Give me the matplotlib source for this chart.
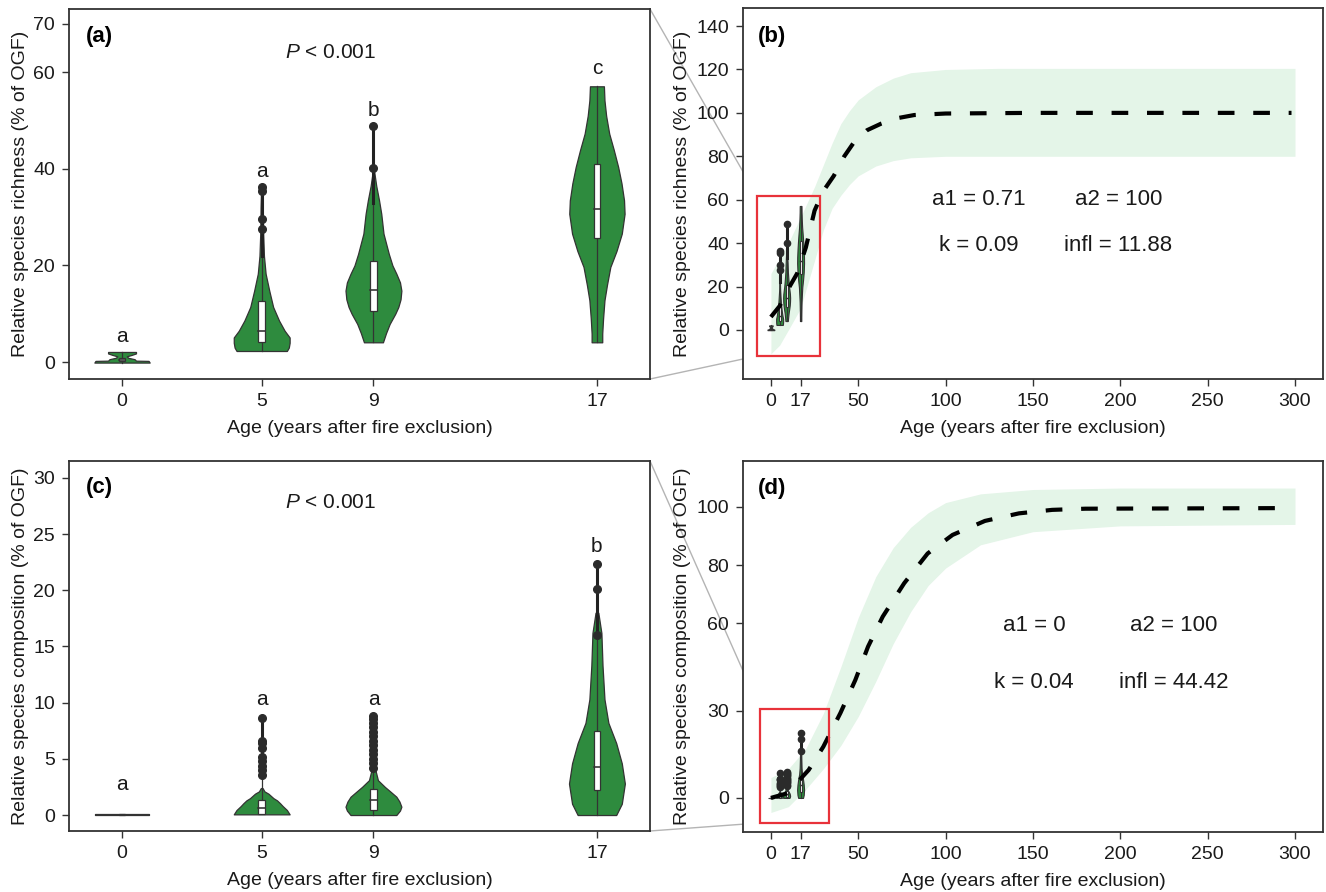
import numpy as np
import matplotlib
matplotlib.use('Agg')
import matplotlib.pyplot as plt
from matplotlib.patches import Rectangle, ConnectionPatch

fam = 'Liberation Sans'
plt.rcParams['font.family'] = [fam, 'DejaVu Sans']
plt.rcParams['mathtext.fontset'] = 'custom'
plt.rcParams['mathtext.it'] = fam + ':italic'
plt.rcParams['mathtext.rm'] = fam

# ---- data ----
ages = [0, 5, 9, 17]
age_ticks = [0, 17, 50, 100, 150, 200, 250, 300]

# richness violins: y levels and half widths (years)
rich_vy = [[-0.1, 0.25, 0.3, 0.6, 0.9, 1.2, 1.5, 1.8, 2.1],
           [2.3, 3.0, 4.0, 5.1, 6.5, 8.6, 11.4, 14.8, 18.3, 22, 27, 32, 36.3],
           [4.1, 6, 7.9, 10, 11.4, 13, 14.8, 16.5, 18.3, 20, 22.4, 26.6, 30.7, 33.5, 36.5, 39.7],
           [4.1, 5.9, 9, 12.8, 16, 19.7, 23, 26.6, 30.7, 33.5, 37, 40.4, 44, 47.3, 51, 54.2, 57.1]]
rich_vw = [[0.99, 0.95, 0.5, 0.45, 0.22, 0.17, 0.35, 0.5, 0.5],
           [0.9, 0.97, 1.0, 1.0, 0.82, 0.62, 0.41, 0.27, 0.14, 0.08, 0.05, 0.04, 0.02],
           [0.34, 0.45, 0.58, 0.78, 0.89, 0.97, 1.0, 0.95, 0.82, 0.68, 0.55, 0.36, 0.28, 0.2, 0.1, 0.02],
           [0.19, 0.19, 0.22, 0.27, 0.36, 0.48, 0.7, 0.89, 0.99, 0.97, 0.88, 0.76, 0.6, 0.44, 0.33, 0.27, 0.25]]
rich_q1 = [0.2, 4.2, 10.5, 25.6]
rich_med = [0.4, 6.5, 14.9, 31.7]
rich_q3 = [0.8, 12.6, 20.9, 41.1]
rich_lo = [-0.1, 2.3, 4.1, 4.1]
rich_hi = [2.1, 22, 33, 57.1]
rich_out = [[], [27.5, 29.7, 35.4, 36.3], [40.2, 48.9], []]
rich_letters = ['a', 'a', 'b', 'c']
rich_letter_y = [5.2, 39.4, 52, 60.8]

# composition violins
comp_vy = [[0.0, 0.06],
           [0.06, 0.45, 0.8, 1.04, 1.3, 1.5, 1.9, 2.1, 2.4],
           [0.0, 0.4, 0.74, 1.2, 1.63, 2.1, 2.5, 3.1, 4.0, 6, 8.8],
           [0.0, 1.0, 2.8, 4.6, 6.4, 8.2, 10.3, 13.3, 16.2, 18.0]]
comp_vw = [[0.97, 0.97],
           [1.0, 0.9, 0.75, 0.66, 0.55, 0.42, 0.24, 0.1, 0.03],
           [0.82, 0.95, 1.0, 0.93, 0.82, 0.6, 0.41, 0.16, 0.07, 0.04, 0.02],
           [0.69, 0.89, 1.0, 0.89, 0.69, 0.41, 0.27, 0.2, 0.16, 0.05]]
comp_q1 = [0.0, 0.06, 0.45, 2.2]
comp_med = [0.0, 0.6, 1.34, 4.3]
comp_q3 = [0.08, 1.3, 2.32, 7.5]
comp_lo = [0.0, 0.06, 0.0, 0.0]
comp_hi = [0.08, 3.4, 4.0, 15.9]
comp_out = [[], [3.6, 4.0, 4.4, 4.8, 5.2, 6.0, 6.4, 6.6, 8.6],
            [4.2, 4.6, 5.0, 5.4, 5.8, 6.2, 6.6, 7.0, 7.4, 7.8, 8.2, 8.5, 8.8],
            [16.0, 20.1, 22.3]]
comp_letters = ['a', 'a', 'a', 'b']
comp_letter_y = [2.7, 10.3, 10.3, 23.9]

# fitted curves and ribbons (b: richness, d: composition)
rich_fit_x = [0, 5, 10, 15, 20, 25, 30, 36, 42, 48, 55, 63, 72, 82, 100, 150, 298]
rich_fit_y = [6, 11, 19, 26, 38, 55, 64, 71, 80, 87, 92, 95, 97.5, 99, 99.7, 100, 100]
rich_band_x = [0, 5, 10, 17, 25, 30, 35, 40, 45, 50, 60, 70, 80, 100, 130, 300]
rich_band_lo = [-11, -7, 0, 10, 32, 46, 56, 62, 67, 71, 75.5, 78, 79.3, 80, 80, 80]
rich_band_hi = [26, 33, 40, 52, 66, 76, 86, 95, 101, 106, 112, 116, 118.5, 120, 120.5, 120.5]

comp_fit_x = [0, 9.4, 21.6, 30, 39.8, 48.3, 55.6, 64, 76.3, 89.7, 104, 122.5, 142, 161, 180, 291]
comp_fit_y = [0, 1.6, 9.6, 17.6, 29.2, 40.5, 52, 62.3, 73.8, 84, 90.4, 95.2, 97.8, 99, 99.4, 99.6]
comp_band_x = [0, 10, 20, 30, 40, 50, 60, 70, 80, 90, 100, 120, 150, 200, 300]
comp_band_lo = [-5, -3, 3, 10, 18, 28, 40, 53, 64, 73, 79, 87, 91.5, 93.5, 94]
comp_band_hi = [7, 10, 17, 29, 45, 62, 76, 86, 93, 98, 101.5, 104.5, 106, 106.5, 106.5]

rich_params = ['a1 = 0.71', 'a2 = 100', 'k = 0.09', 'infl = 11.88']
comp_params = ['a1 = 0', 'a2 = 100', 'k = 0.04', 'infl = 44.42']

GREEN = '#2e8b3e'
EDGE = '#333333'
BAND = '#e4f5e8'
TXT = '#1a1a1a'


def violins(ax, vy, vw, q1, med, q3, lo, hi, outs, scale=1.0, box_hw=0.12,
            ms=5.5, lw=0.9):
    for i, a in enumerate(ages):
        y = np.array(vy[i])
        w = np.array(vw[i]) * scale
        ax.fill_betweenx(y, a - w, a + w, color=GREEN, ec=EDGE, lw=lw, zorder=2)
        ax.plot([a, a], [lo[i], q1[i]], color=EDGE, lw=lw, zorder=3)
        ax.plot([a, a], [q3[i], hi[i]], color=EDGE, lw=lw, zorder=3)
        bw = box_hw * scale
        ax.add_patch(Rectangle((a - bw, q1[i]), 2 * bw, q3[i] - q1[i],
                               fc='white', ec=EDGE, lw=lw, zorder=4))
        ax.plot([a - bw, a + bw], [med[i], med[i]], color=EDGE, lw=lw * 1.3, zorder=5)
        if outs[i]:
            ax.plot([a, a], [hi[i], max(outs[i])], color='#222222', lw=2.2, zorder=5)
            ax.plot([a] * len(outs[i]), outs[i], 'o', color='#2b2b2b', ms=ms, zorder=6)


def style(ax):
    for s in ax.spines.values():
        s.set_color(EDGE)
        s.set_linewidth(1.3)
    ax.tick_params(direction='out', length=5, width=1, color=EDGE, pad=5,
                   labelsize=14, labelcolor=TXT)


fig = plt.figure(figsize=(13.26, 8.92), dpi=100)
ax_a = fig.add_axes([0.052, 0.5751, 0.4382, 0.4148])
ax_b = fig.add_axes([0.5603, 0.5751, 0.4374, 0.4159])
ax_c = fig.add_axes([0.052, 0.0684, 0.4382, 0.4148])
ax_d = fig.add_axes([0.5603, 0.0673, 0.4374, 0.4159])

xlab = 'Age (years after fire exclusion)'

# (a) richness violins
violins(ax_a, rich_vy, rich_vw, rich_q1, rich_med, rich_q3, rich_lo, rich_hi, rich_out)
for a, l, y in zip(ages, rich_letters, rich_letter_y):
    ax_a.text(a, y, l, ha='center', va='center', fontsize=15, color=TXT)
ax_a.text(7.45, 64.1, '$P$ < 0.001', ha='center', va='center', fontsize=15, color=TXT)
ax_a.set_xlim(-1.9, 18.9)
ax_a.set_ylim(-3.5, 73.1)
ax_a.set_xticks(ages)
ax_a.set_yticks([0, 20, 40, 60, 70])
ax_a.set_ylabel('Relative species richness (% of OGF)', fontsize=14, color=TXT, labelpad=3)
ax_a.set_xlabel(xlab, fontsize=14, color=TXT, labelpad=7)
ax_a.text(0.029, 0.927, '(a)', transform=ax_a.transAxes, fontsize=16,
          fontweight='bold', va='center', color='black')

# (c) composition violins
violins(ax_c, comp_vy, comp_vw, comp_q1, comp_med, comp_q3, comp_lo, comp_hi, comp_out)
for a, l, y in zip(ages, comp_letters, comp_letter_y):
    ax_c.text(a, y, l, ha='center', va='center', fontsize=15, color=TXT)
ax_c.text(7.45, 27.8, '$P$ < 0.001', ha='center', va='center', fontsize=15, color=TXT)
ax_c.set_xlim(-1.9, 18.9)
ax_c.set_ylim(-1.42, 31.5)
ax_c.set_xticks(ages)
ax_c.set_yticks([0, 5, 10, 15, 20, 25, 30])
ax_c.set_ylabel('Relative species composition (% of OGF)', fontsize=14, color=TXT, labelpad=3)
ax_c.set_xlabel(xlab, fontsize=14, color=TXT, labelpad=7)
ax_c.text(0.029, 0.927, '(c)', transform=ax_c.transAxes, fontsize=16,
          fontweight='bold', va='center', color='black')


def curve_panel(ax, bx, blo, bhi, fx, fy, vy, vw, q1, med, q3, lo, hi, outs, params, px, py):
    ax.fill_between(bx, blo, bhi, color=BAND, lw=0, zorder=1)
    violins(ax, vy, vw, q1, med, q3, lo, hi, outs, scale=2.0, box_hw=0.3, ms=4.5, lw=0.8)
    ax.plot(fx, fy, color='black', lw=3, ls=(0, (4, 4.5)), zorder=7)
    for t, (x, y) in zip(params, [(px[0], py[0]), (px[1], py[0]), (px[0], py[1]), (px[1], py[1])]):
        ax.text(x, y, t, ha='center', va='center', fontsize=16, color=TXT)
    ax.set_xlim(-16, 316)
    ax.set_xticks(age_ticks)
    ax.set_xlabel(xlab, fontsize=14, color=TXT, labelpad=7)


# (b)
curve_panel(ax_b, rich_band_x, rich_band_lo, rich_band_hi, rich_fit_x, rich_fit_y,
            rich_vy, rich_vw, rich_q1, rich_med, rich_q3, rich_lo, rich_hi, rich_out,
            rich_params, (119, 199), (60, 39))
ax_b.set_ylim(-22.6, 148.3)
ax_b.set_yticks([0, 20, 40, 60, 80, 100, 120, 140])
ax_b.set_ylabel('Relative species richness (% of OGF)', fontsize=14, color=TXT, labelpad=4)
ax_b.text(0.026, 0.922, '(b)', transform=ax_b.transAxes, fontsize=16,
          fontweight='bold', va='center', color='black')
box_b = (-8, -12, 36, 73.7)
ax_b.add_patch(Rectangle(box_b[:2], box_b[2], box_b[3], fill=False, ec='#e8323a', lw=1.6, zorder=8))

# (d)
curve_panel(ax_d, comp_band_x, comp_band_lo, comp_band_hi, comp_fit_x, comp_fit_y,
            comp_vy, comp_vw, comp_q1, comp_med, comp_q3, comp_lo, comp_hi, comp_out,
            comp_params, (150.5, 230.7), (59.2, 39.8))
ax_d.set_ylim(-11.7, 115.8)
ax_d.set_yticks([0, 30, 60, 80, 100])
ax_d.set_ylabel('Relative species composition (% of OGF)', fontsize=14, color=TXT, labelpad=4)
ax_d.text(0.026, 0.925, '(d)', transform=ax_d.transAxes, fontsize=16,
          fontweight='bold', va='center', color='black')
box_d = (-6.3, -8.6, 39.3, 39.2)
ax_d.add_patch(Rectangle(box_d[:2], box_d[2], box_d[3], fill=False, ec='#e8323a', lw=1.6, zorder=8))

for ax in (ax_a, ax_b, ax_c, ax_d):
    style(ax)

# zoom connectors
for src, dst, bx in ((ax_a, ax_b, box_b), (ax_c, ax_d, box_d)):
    for ya, yb in ((1, bx[1] + bx[3]), (0, bx[1])):
        con = ConnectionPatch(xyA=(1, ya), coordsA=src.transAxes,
                              xyB=(bx[0], yb), coordsB=dst.transData,
                              color='#b4b4b4', lw=1.0, zorder=0)
        fig.add_artist(con)

fig.savefig('out.png', dpi=100)
